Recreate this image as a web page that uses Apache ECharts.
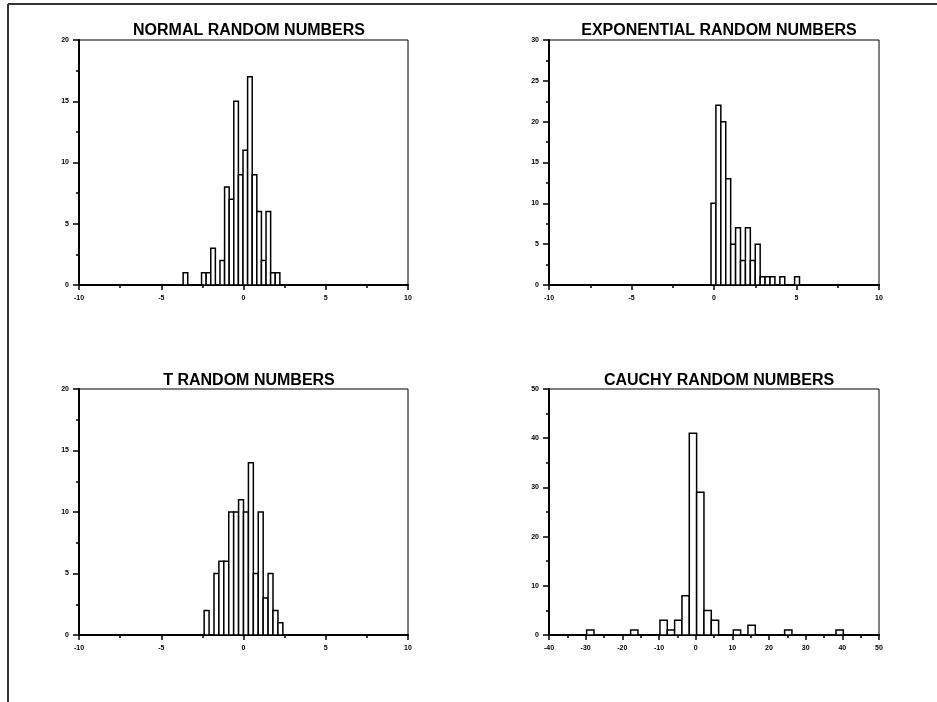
<!DOCTYPE html>
<html>
<head>
<meta charset="utf-8">
<script src="https://cdn.jsdelivr.net/npm/echarts@6/dist/echarts.min.js"></script>
<style>
html,body{margin:0;padding:0;background:#fff;}
#main{width:937px;height:702px;}
</style>
</head>
<body>
<div id="main"></div>
<script>
// ---- data ----
const titles = ['NORMAL RANDOM NUMBERS', 'EXPONENTIAL RANDOM NUMBERS', 'T RANDOM NUMBERS', 'CAUCHY RANDOM NUMBERS'];

// histogram bin definitions (lower limit, class width) and counts per bin
const normalLow = -5.63, normalWidth = 0.28;
const normalCounts = [0,0,0,0,0,0,0,1,0,0, 0,1,1,3,0,2,8,7,15,9, 11,17,9,6,2,6,1,1,0,0, 0,0,0,0,0,0,0,0,0,0];

const expLow = -4.95, expWidth = 0.298;
const expCounts = [0,0,0,0,0,0,0,0,0,0, 0,0,0,0,0,0,10,22,20,13, 5,7,3,7,3,5,1,1,1,0, 1,0,0,1,0,0,0,0,0,0];

const tLow = -5.98, tWidth = 0.299;
const tCounts = [0,0,0,0,0,0,0,0,0,0, 0,0,2,0,5,6,6,10,10,11, 10,14,5,10,3,5,2,1,0,0, 0,0,0,0,0,0,0,0,0,0];

const cauchyLow = -39.74, cauchyWidth = 2.0;
const cauchyCounts = [0,0,0,0,0,1,0,0,0,0, 0,1,0,0,0,3,1,3,8,41, 29,5,3,0,0,1,0,2,0,0, 0,0,1,0,0,0,0,0,0,1, 0,0];

// axis ranges / tick intervals
const xRanges = [[-10,10,5],[-10,10,5],[-10,10,5],[-40,50,10]];
const yRanges = [[0,20,5],[0,30,5],[0,20,5],[0,50,10]];

// ---- build ----
const hists = [
  [normalLow, normalWidth, normalCounts],
  [expLow, expWidth, expCounts],
  [tLow, tWidth, tCounts],
  [cauchyLow, cauchyWidth, cauchyCounts]
];

const grids = [
  {left:79, top:40, width:329, height:245},
  {left:549, top:40, width:330, height:245},
  {left:79, top:389, width:329, height:246},
  {left:549, top:389, width:330, height:246}
];
const titleCenters = [[244,26],[714,26],[244,376],[714,376]];

const FONT = '"Liberation Sans", Arial, sans-serif';
const labelStyle = {fontSize:7, fontWeight:'bold', fontFamily:FONT, color:'#000'};

const option = {
  animation:false,
  backgroundColor:'#fff',
  title: titles.map((t,i)=>({
    text:t, left:titleCenters[i][0], top:titleCenters[i][1], textAlign:'center', textVerticalAlign:'middle',
    textStyle:{fontSize:16, fontWeight:'bold', fontFamily:FONT, color:'#000'}
  })),
  grid: grids.map(g=>Object.assign({show:true, borderColor:'#000', borderWidth:1, backgroundColor:'transparent'}, g)),
  xAxis: xRanges.map((r,i)=>({
    type:'value', gridIndex:i, min:r[0], max:r[1], interval:r[2],
    axisLine:{show:true, onZero:false, lineStyle:{color:'#000', width:2}},
    axisTick:{show:true, inside:false, length:5, lineStyle:{color:'#000', width:1.5}},
    minorTick:{show:true, splitNumber:2, length:3, lineStyle:{color:'#000', width:1.5}},
    axisLabel:Object.assign({margin:10}, labelStyle),
    splitLine:{show:false}
  })),
  yAxis: yRanges.map((r,i)=>({
    type:'value', gridIndex:i, min:r[0], max:r[1], interval:r[2],
    axisLine:{show:true, onZero:false, lineStyle:{color:'#000', width:2}},
    axisTick:{show:true, inside:false, length:6, lineStyle:{color:'#000', width:1.5}},
    minorTick:{show:true, splitNumber:2, length:3, lineStyle:{color:'#000', width:1.5}},
    axisLabel:Object.assign({margin:10}, labelStyle),
    splitLine:{show:false}
  })),
  series: hists.map((h,i)=>({
    type:'custom', xAxisIndex:i, yAxisIndex:i, clip:false,
    data: h[2].map((c,k)=>[h[0]+k*h[1], h[0]+(k+1)*h[1], c]),
    renderItem:function(params, api){
      const p0 = api.coord([api.value(0), 0]);
      const p1 = api.coord([api.value(1), api.value(2)]);
      return {type:'rect', shape:{x:p0[0], y:p1[1], width:p1[0]-p0[0], height:p0[1]-p1[1]},
        style:{fill:'#fff', stroke:'#000', lineWidth:1.5}};
    }
  })),
  graphic:[
    {type:'line', shape:{x1:8, y1:4, x2:937, y2:4}, style:{stroke:'#333', lineWidth:2}},
    {type:'line', shape:{x1:8, y1:4, x2:8, y2:702}, style:{stroke:'#333', lineWidth:2}}
  ]
};

const chart = echarts.init(document.getElementById('main'), null, {renderer:'canvas'});
chart.setOption(option);
</script>
</body>
</html>
